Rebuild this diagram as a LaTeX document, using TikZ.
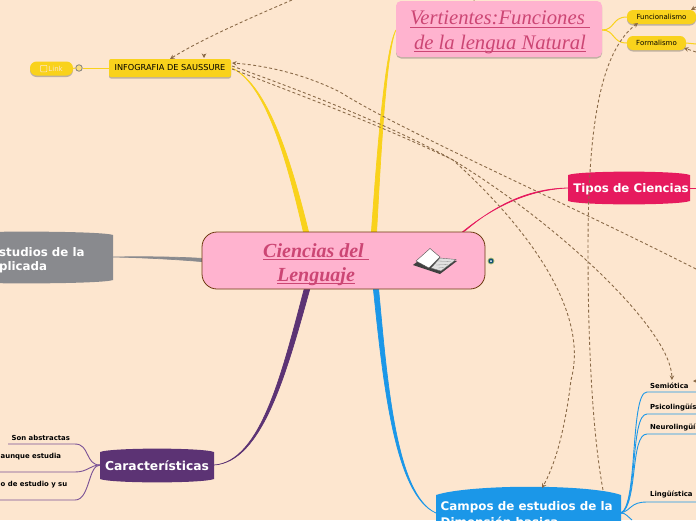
\documentclass[tikz,border=0pt]{standalone}
\usepackage{fontspec}
\setmainfont{DejaVu Sans}
\newfontfamily\serifx{Liberation Serif}
\usetikzlibrary{arrows.meta,calc,shadows}
\definecolor{bgc}{HTML}{FDE6CF}
\definecolor{pinkc}{HTML}{FFB3CF}
\definecolor{pinkt}{HTML}{CC4674}
\definecolor{yel}{HTML}{F9D21C}
\definecolor{magc}{HTML}{E61A5E}
\definecolor{grayc}{HTML}{898A8E}
\definecolor{purc}{HTML}{5C3374}
\definecolor{purl}{HTML}{7A5296}
\definecolor{bluec}{HTML}{1B97E8}
\definecolor{dashc}{HTML}{8A6A48}
\definecolor{brownb}{HTML}{6E3A10}
\newcommand\ulx[2][1.1pt]{\setbox0=\hbox{#2}\rlap{\rule[-2.8pt]{\wd0}{#1}}\box0}
\newcommand\taper[7]{\filldraw[#1,line width=.7pt,line join=round] (#2) .. controls ($(#4)+0.3*(#6,#7)$) and ($(#5)+0.8*(#6,#7)$) .. ($(#3)+(#6,#7)$) -- ($(#3)-(#6,#7)$) .. controls ($(#5)-0.8*(#6,#7)$) and ($(#4)-0.3*(#6,#7)$) .. (#2) -- cycle;}
\newcommand\blobshape[5]{\fill[#5] (#1,#2+3) .. controls (#1+12,#2-1.5) and (#3-12,#2-1.5) .. (#3,#2+3) -- (#3,#4-3) .. controls (#3-12,#4+1.5) and (#1+12,#4+1.5) .. (#1,#4-3) -- cycle;}
\tikzset{
  x=1pt,y=-1pt,
  softshadow/.style={drop shadow={shadow xshift=0pt,shadow yshift=-1.5pt,opacity=.35,fill=black!70}},
  dashedlink/.style={draw=dashc,line width=.9pt,dash pattern=on 3pt off 2.4pt,-{Stealth[length=4.5pt,width=4.5pt]}},
  ybranch/.style={draw=yel,line width=1pt},
  pbranch/.style={draw=purl,line width=.9pt},
  bbranch/.style={draw=bluec,line width=.9pt},
  leaf/.style={font=\fontsize{6.9}{8.5}\selectfont\bfseries,text=black,inner sep=0pt,anchor=west},
  yellowpill/.style={fill=yel,rounded corners=6pt,softshadow,minimum height=14pt,inner sep=0pt,text=black,font=\fontsize{7}{8}\selectfont},
  blobtext/.style={text=white,inner sep=0pt,align=left},
}
\begin{document}
\begin{tikzpicture}
\useasboundingbox (0,0) rectangle (696,520);
\clip (0,0) rectangle (696,520);
\fill[bgc] (0,0) rectangle (696,520);

% free ends and attachment points
\coordinate (cInfo) at (306,232);
\coordinate (cVert) at (374,232);
\coordinate (cTipos) at (463,232);
\coordinate (cGray) at (202,260);
\coordinate (cCar) at (307,289);
\coordinate (cCampos) at (376,289);
\coordinate (topOut) at (292,0);
\coordinate (rightOut) at (696,269);
\coordinate (vertTop) at (474,1);
\coordinate (semRight) at (693,381);
\coordinate (semTop) at (672,380);
\coordinate (funcRight) at (691,10);
\coordinate (formRight) at (684,48);
\coordinate (infoTop) at (204,58);
\coordinate (camposA) at (542,488);
\coordinate (camposB) at (603,490);
\coordinate (funcIn) at (638,23);
\coordinate (edgeFunc) at (696,7);
\coordinate (edgeForm) at (696,52);
\coordinate (edgeSem) at (696,381);
\coordinate (edgeR1) at (696,188);
\coordinate (edgeR2) at (696,44);
\coordinate (edgeLeftA) at (8,444);
\coordinate (edgeLeftB) at (0,472);
\coordinate (edgeLeftC) at (0,500);
\coordinate (edgeSemU) at (696,392);
\coordinate (edgePsi) at (696,414);
\coordinate (edgeNeu) at (696,434);
\coordinate (edgeLin) at (696,502);
\coordinate (bottomOut) at (632,520);

% shapes with wavy top and bottom
\blobshape{568}{172}{690}{204}{magc}
\blobshape{-60}{232}{113}{283}{grayc}
\blobshape{100}{449}{214}{482}{purc}
\fill[bluec] (436,495) .. controls (470,484) and (590,484) .. (621,495) -- (621,530) -- (436,530) -- cycle;

% tapered main branches
\taper{yel}{232,68}{cInfo}{268,85}{290,165}{2.6}{0}
\taper{yel}{396,30}{cVert}{385,50}{378,170}{2.6}{0}
\taper{magc}{568,188}{cTipos}{530,189}{495,205}{3}{-2}
\taper{grayc}{113,257}{cGray}{140,257}{175,258}{0}{1.6}
\taper{purc}{214,465}{cCar}{262,462}{285,370}{2.8}{0}
\taper{bluec}{436,513}{cCampos}{395,495}{385,380}{2.6}{0}

% nodes
\node[draw=brownb,line width=.8pt,fill=pinkc,rounded corners=15pt,minimum width=283pt,minimum height=57pt,inner sep=0pt] (center) at (343.5,260.5) {};
\node[fill=pinkc,rounded corners=5pt,softshadow,minimum width=206pt,minimum height=56pt,inner sep=0pt] (vert) at (499,29) {};
\node[text=pinkt,font=\serifx\fontsize{20.7}{24.5}\selectfont\itshape,align=center,inner sep=0pt] (vtext) at (500,32.5) {\ulx{Vertientes:Funciones }\\\ulx{de la lengua Natural}};
\node[font=\serifx\fontsize{20}{24.5}\selectfont\itshape\bfseries,text=pinkt,align=center,inner sep=0pt] (ctext) at (316,264.5) {\ulx{Ciencias del }\\\ulx{Lenguaje}};
\node[fill=yel,rounded corners=2pt,softshadow,minimum width=122pt,minimum height=18pt,inner sep=0pt,font=\fontsize{8.2}{9}\selectfont,text=black] (info) at (170,68) {INFOGRAFIA DE SAUSSURE};
\node[yellowpill,minimum width=43pt,rounded corners=6.5pt,text=bgc] (link) at (51.5,68.5) {\tikz[baseline=0pt]\draw[bgc,line width=.5pt,rounded corners=.8pt] (0,0) rectangle (6.5,-6.5);\,Link};
\node[draw=black!50,fill=yel!45!bgc,line width=.8pt,circle,minimum size=6.5pt,inner sep=0pt] (knob) at (79,68) {};
\node[yellowpill,minimum width=69pt] (func) at (661.5,17) {Funcionalismo};
\node[yellowpill,minimum width=59pt] (form) at (656.5,43) {Formalismo};
\node[blobtext,font=\fontsize{11.8}{13}\selectfont\bfseries] (tipos) at (631,189) {Tipos de Ciencias};
\node[blobtext,font=\fontsize{11.8}{14}\selectfont\bfseries,anchor=west] (gray) at (-1,260) {studios de la\\plicada};
\node[blobtext,font=\fontsize{12.3}{13}\selectfont\bfseries] (car) at (157,465.5) {Características};
\node[blobtext,font=\fontsize{11.9}{16}\selectfont\bfseries,anchor=north west] (campos) at (440.5,501.5) {Campos de estudios de la\\Dimensión basica};

% fine branches
\draw[ybranch] (link.east) -- (knob.west);
\draw[ybranch] (knob.east) -- (info.west);
\draw[ybranch] (vert.east) ++(0,1) .. controls (615,30) and (612,17) .. (func.west);
\draw[ybranch] (vert.east) ++(0,1) .. controls (615,30) and (612,43) .. (form.west);
\draw[ybranch] (form.east) -- (edgeR2);
\draw[magc,line width=1pt] (690,188) -- (edgeR1);

\node[leaf] (l1) at (11.5,437.5) {Son abstractas};
\node[leaf] (l2) at (0.5,456.5) {aunque estudia};
\node[leaf] (l3) at (0.5,484.5) {o de estudio y su};
\coordinate (carW) at (100,465);
\draw[pbranch] (carW) .. controls (85,465) and (90,444) .. (75,444) -- (edgeLeftA);
\draw[pbranch] (carW) .. controls (90,465) and (88,472) .. (75,472) -- (edgeLeftB);
\draw[pbranch] (carW) .. controls (88,465) and (90,500) .. (75,500) -- (edgeLeftC);

\node[leaf] (s1) at (650,385.5) {Semiótica};
\node[leaf] (s2) at (650,407.5) {Psicolingüís};
\node[leaf] (s3) at (650,427.5) {Neurolingüí};
\node[leaf] (s4) at (650,494.5) {Lingüística};
\coordinate (camE) at (621,513);
\draw[bbranch] (camE) .. controls (638,505) and (630,392) .. (647,392) -- (edgeSemU);
\draw[bbranch] (camE) .. controls (638,505) and (630,414) .. (647,414) -- (edgePsi);
\draw[bbranch] (camE) .. controls (638,505) and (630,434) .. (647,434) -- (edgeNeu);
\draw[bbranch] (camE) .. controls (632,510) and (630,502) .. (647,502) -- (edgeLin);
\draw[bbranch] (camE) .. controls (626,513) and (628,517) .. (bottomOut);

% dashed links
\draw[dashedlink] (topOut) .. controls (250,18) and (200,40) .. (170,59);
\draw[dashedlink] (rightOut) .. controls (560,200) and (400,130) .. (340,92) .. controls (300,72) and (260,65) .. (232,63);
\draw[dashedlink] (232,66) .. controls (300,90) and (390,125) .. (453,160) .. controls (560,225) and (671,330) .. (semTop);
\draw[dashedlink] (232,69) .. controls (300,95) and (380,125) .. (453,160) .. controls (525,225) and (590,310) .. (571,380) .. controls (565,430) and (555,465) .. (camposA);
\draw[dashedlink] (camposB) .. controls (592,430) and (588,340) .. (588,250) .. controls (588,150) and (595,55) .. (funcIn);
\draw[dashedlink] (edgeFunc) -- (funcRight);
\draw[dashedlink] (edgeForm) -- (formRight);
\draw[dashedlink] (edgeSem) -- (semRight);
\draw[dashedlink] (474,-4) -- (vertTop);
\draw[dashedlink] (204,54) -- (infoTop);

% small globe mark
\node[circle,fill=bluec!50!black,draw=yel!60!bluec,line width=.7pt,minimum size=6pt,inner sep=0pt] (mark) at (491,261) {};
\fill[white] (mark) circle (1);

% book
\fill[black!75] (413,265) -- (430,252) -- (440,260) -- (457,261) -- (440,274) -- (428,270) -- cycle;
\fill[white,draw=black!70,line width=.4pt] (416,261) -- (430,248.5) -- (440,257) -- (429,268) -- cycle;
\fill[black!12,draw=black!60,line width=.4pt] (440,258) -- (456,259.5) -- (441,271) -- (431,268) -- cycle;
\draw[black!45,line width=.3pt] (438,261) -- (451,261.5) (436,265) -- (448,264.5) (438,268) -- (444,267.5);
\end{tikzpicture}
\end{document}
